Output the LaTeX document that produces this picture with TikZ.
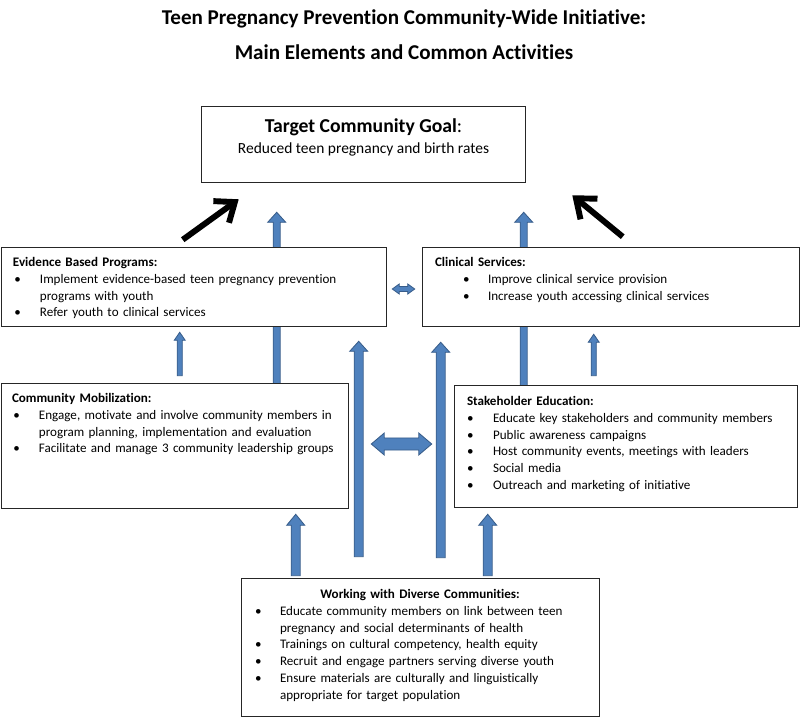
\documentclass[tikz,border=0pt]{standalone}
\usepackage{fontspec}
\setmainfont{Carlito}[Ligatures=NoCommon]
\usetikzlibrary{positioning,calc,fit,arrows.meta}

\definecolor{blockfill}{HTML}{4F81BD}
\definecolor{blockline}{HTML}{385D8A}

% bullet line: [bullet offset]{text indent}{text}
\newcommand{\bitem}[3][0pt]{\par\noindent\makebox[#2][l]{\hspace*{#1}\textbullet}#3}
% wrapped second line of a bullet
\newcommand{\bnext}[2]{\par\noindent\hspace*{#1}#2}

% block arrow: from, to, shaft half width, head half width, head length
\newcommand{\blockup}[5]{%
  \coordinate (bu-n) at ($(#2)!#5!(#1)$);
  \filldraw[blockarrow] ($(#1)!#3!90:(#2)$) -- ($(bu-n)!#3!90:(#2)$) -- ($(bu-n)!#4!90:(#2)$) -- (#2)
    -- ($(bu-n)!#4!-90:(#2)$) -- ($(bu-n)!#3!-90:(#2)$) -- ($(#1)!#3!-90:(#2)$) -- cycle;
}
% block arrow with two heads
\newcommand{\blockboth}[5]{%
  \coordinate (bb-a) at ($(#1)!#5!(#2)$);
  \coordinate (bb-b) at ($(#2)!#5!(#1)$);
  \filldraw[blockarrow] (#1) -- ($(bb-a)!#4!90:(#2)$) -- ($(bb-a)!#3!90:(#2)$) -- ($(bb-b)!#3!90:(#2)$)
    -- ($(bb-b)!#4!90:(#2)$) -- (#2) -- ($(bb-b)!#4!-90:(#2)$) -- ($(bb-b)!#3!-90:(#2)$)
    -- ($(bb-a)!#3!-90:(#2)$) -- ($(bb-a)!#4!-90:(#2)$) -- cycle;
}

\tikzset{
  box/.style={draw=black!85, line width=0.9pt, fill=white, inner sep=0pt},
  boxtext/.style={anchor=base west, inner sep=0pt, align=left, font=\fontsize{9.3}{11.9}\selectfont},
  blockarrow/.style={fill=blockfill, draw=blockline, line width=0.6pt},
  pointer/.style={line width=4.2pt, -{Straight Barb[length=12pt,width=19pt]}},
}

\begin{document}
\begin{tikzpicture}[x=0.025cm, y=-0.025cm]
  \useasboundingbox (0,0) rectangle (800,717);

  \node[anchor=base, font=\fontsize{15}{17}\selectfont\bfseries] (title1) at (404,24) {Teen Pregnancy Prevention Community-Wide Initiative:};
  \node[anchor=base, font=\fontsize{15}{17}\selectfont\bfseries] (title2) at (title1.base |- 0,59) {Main Elements and Common Activities};

  % boxes (only outlines here, filled later over the long arrows)
  \path node[fit={(202,107) (525,182)}, inner sep=0pt] (goal) {}
        node[fit={(2,248) (386,326)}, inner sep=0pt] (ev) {}
        node[fit={(423,248) (799,326)}, inner sep=0pt] (cs) {}
        node[fit={(2,384) (348,508)}, inner sep=0pt] (cm) {}
        node[fit={(455,386) (797,507)}, inner sep=0pt] (sh) {}
        node[fit={(242,579) (599,716)}, inner sep=0pt] (wd) {};

  % arrow ends
  \coordinate (mobup) at ($(cm.north west)+(275,0)$);
  \coordinate (goalleft) at ($(goal.south west)+(75,30)$);
  \coordinate (stakeup) at ($(sh.north west)+(69,0)$);
  \coordinate (goalright) at ($(goal.south west)+(322,30)$);

  % long arrows behind the middle boxes
  \blockup{mobup}{goalleft}{2.5pt}{6.4pt}{7.1pt}
  \blockup{stakeup}{goalright}{2.5pt}{6.4pt}{7.1pt}

  \node[box, fit={(goal.north west) (goal.south east)}] (goalbox) {};
  \node[box, fit={(ev.north west) (ev.south east)}] (evbox) {};
  \node[box, fit={(cs.north west) (cs.south east)}] (csbox) {};
  \node[box, fit={(cm.north west) (cm.south east)}] (cmbox) {};
  \node[box, fit={(sh.north west) (sh.south east)}] (shbox) {};
  \node[box, fit={(wd.north west) (wd.south east)}] (wdbox) {};

  \node[anchor=base, inner sep=0pt, font=\fontsize{14}{16}\selectfont] (goalhead) at ($(goal.north)+(0,26)$) {\textbf{Target Community Goal}:};
  \node[anchor=base, inner sep=0pt, font=\fontsize{11}{13}\selectfont] (goalsub) at ($(goal.north)+(0,47)$) {Reduced teen pregnancy and birth rates};

  \node[boxtext, text width=9.25cm] (evtext) at ($(ev.north west)+(11,19)$) {%
    \textbf{Evidence Based Programs:}
    \bitem[1pt]{19.2pt}{Implement evidence-based teen pregnancy prevention}
    \bnext{19.2pt}{programs with youth}
    \bitem[1pt]{19.2pt}{Refer youth to clinical services}};

  \node[boxtext, text width=9cm] (cstext) at ($(cs.north west)+(12,19)$) {%
    \textbf{Clinical Services:}
    \bitem[20pt]{37.7pt}{Improve clinical service provision}
    \bitem[20pt]{37.7pt}{Increase youth accessing clinical services}};

  \node[boxtext, text width=8.4cm] (cmtext) at ($(cm.north west)+(10,19)$) {%
    \textbf{Community Mobilization:}
    \bitem[1pt]{19.2pt}{Engage, motivate and involve community members in}
    \bnext{19.2pt}{program planning, implementation and evaluation}
    \bitem[1pt]{19.2pt}{Facilitate and manage 3 community leadership groups}};

  \node[boxtext, text width=8.2cm] (shtext) at ($(sh.north west)+(12,20)$) {%
    \textbf{Stakeholder Education:}
    \bitem[0pt]{18.5pt}{Educate key stakeholders and community members}
    \bitem[0pt]{18.5pt}{Public awareness campaigns}
    \bitem[0pt]{18.5pt}{Host community events, meetings with leaders}
    \bitem[0pt]{18.5pt}{Social media}
    \bitem[0pt]{18.5pt}{Outreach and marketing of initiative}};

  \node[boxtext, text width=8.25cm] (wdtext) at ($(wd.north west)+(13,20)$) {%
    {\centering\textbf{Working with Diverse Communities:}\par}
    \bitem[0pt]{17.8pt}{Educate community members on link between teen}
    \bnext{17.8pt}{pregnancy and social determinants of health}
    \bitem[0pt]{17.8pt}{Trainings on cultural competency, health equity}
    \bitem[0pt]{17.8pt}{Recruit and engage partners serving diverse youth}
    \bitem[0pt]{17.8pt}{Ensure materials are culturally and linguistically}
    \bnext{17.8pt}{appropriate for target population}};

  % short arrows
  \coordinate (mobshort) at ($(cm.north west)+(178,-8)$);
  \coordinate (evshort) at ($(ev.south west)+(178,6)$);
  \coordinate (stakeshort) at ($(sh.north west)+(139,-10)$);
  \coordinate (csshort) at ($(cs.south west)+(171,8)$);
  \blockup{mobshort}{evshort}{1.8pt}{3.9pt}{5.7pt}
  \blockup{stakeshort}{csshort}{1.8pt}{3.9pt}{5.7pt}

  % middle arrows from the bottom box
  \coordinate (wdleft) at ($(wd.north west)+(117,-22)$);
  \coordinate (evmid) at ($(ev.south west)+(357,15)$);
  \coordinate (wdright) at ($(wd.north west)+(199,-21)$);
  \coordinate (csmid) at ($(cs.south west)+(18,16)$);
  \blockup{wdleft}{evmid}{3.2pt}{6.4pt}{7.1pt}
  \blockup{wdright}{csmid}{3.2pt}{6.4pt}{7.1pt}

  \coordinate (wdcm) at ($(wd.north west)+(54,-3)$);
  \coordinate (cmin) at ($(cm.south west)+(294,6)$);
  \coordinate (wdsh) at ($(wd.north west)+(246,-3)$);
  \coordinate (shin) at ($(sh.south west)+(33,7)$);
  \blockup{wdcm}{cmin}{3.2pt}{6.4pt}{7.8pt}
  \blockup{wdsh}{shin}{3.2pt}{6.4pt}{7.8pt}

  % two-way arrows
  \coordinate (cmside) at ($(cm.east)+(23,-2)$);
  \coordinate (shside) at ($(sh.west)+(-23,-2.5)$);
  \blockboth{cmside}{shside}{4.3pt}{7.8pt}{9.2pt}
  \coordinate (evside) at ($(ev.east)+(6,2)$);
  \coordinate (csside) at ($(cs.west)+(-8,2)$);
  \blockboth{evside}{csside}{1.8pt}{3.6pt}{5pt}

  % black arrows into the goal
  \coordinate (evtop) at ($(ev.north west)+(181,-8)$);
  \coordinate (goalsw) at ($(goal.south west)+(37,17)$);
  \coordinate (cstop) at ($(cs.north west)+(200,-11)$);
  \coordinate (goalse) at ($(goal.south east)+(47,13)$);
  \draw[pointer] (evtop) -- (goalsw);
  \draw[pointer] (cstop) -- (goalse);
\end{tikzpicture}
\end{document}
